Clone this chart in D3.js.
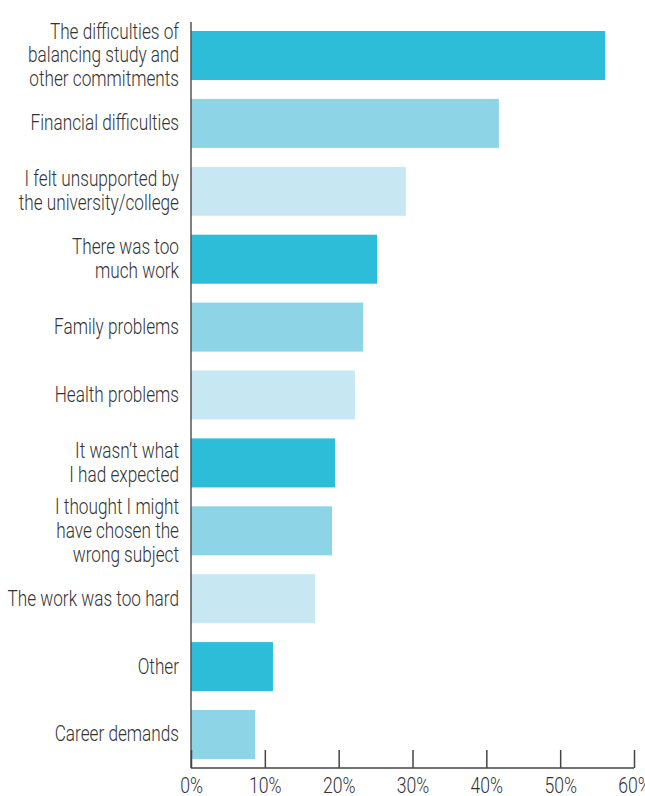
<!DOCTYPE html>
<html>
<head>
<meta charset="utf-8">
<script src="https://cdn.jsdelivr.net/npm/d3@7"></script>
<style>
  html, body { margin: 0; padding: 0; background: #fff; }
  svg { display: block; }
  text { font-family: Roboto, "Liberation Sans", sans-serif; font-weight: 300; }
</style>
</head>
<body>
<svg id="chart" width="645" height="796"></svg>
<script>
// Reasons for leaving a course (% of respondents)
const categories = [
  "The difficulties of balancing study and other commitments",
  "Financial difficulties",
  "I felt unsupported by the university/college",
  "There was too much work",
  "Family problems",
  "Health problems",
  "It wasn’t what I had expected",
  "I thought I might have chosen the wrong subject",
  "The work was too hard",
  "Other",
  "Career demands"
];
const labelLines = [
  ["The difficulties of", "balancing study and", "other commitments"],
  ["Financial difficulties"],
  ["I felt unsupported by", "the university/college"],
  ["There was too", "much work"],
  ["Family problems"],
  ["Health problems"],
  ["It wasn’t what", "I had expected"],
  ["I thought I might", "have chosen the", "wrong subject"],
  ["The work was too hard"],
  ["Other"],
  ["Career demands"]
];
const values = [56.1, 41.7, 29.1, 25.2, 23.3, 22.2, 19.5, 19.1, 16.8, 11.1, 8.7];
const tickValues = [0, 10, 20, 30, 40, 50, 60];
const palette = ["#2dbdd8", "#8dd5e6", "#c7e8f2"];

const svg = d3.select("#chart");

const x = d3.scaleLinear().domain([0, 60]).range([191, 634]);
const y = d3.scaleBand().domain(categories).range([31, 759]).paddingInner(0.278).paddingOuter(0);

// Bars
svg.append("g")
  .selectAll("rect")
  .data(categories)
  .join("rect")
  .attr("x", x(0))
  .attr("y", d => y(d))
  .attr("width", (d, i) => x(values[i]) - x(0))
  .attr("height", y.bandwidth())
  .attr("fill", (d, i) => palette[i % 3]);

// Category labels (condensed horizontally)
const lineH = 24;
const squeeze = 0.8;
const labels = svg.append("g")
  .attr("font-size", 21.5)
  .attr("fill", "#333")
  .attr("text-anchor", "end");
categories.forEach((c, i) => {
  const lines = labelLines[i];
  const cy = y(c) + y.bandwidth() / 2;
  const base = cy - (lines.length - 1) * lineH / 2 + 7;
  const t = labels.append("text")
    .attr("transform", `translate(179,${base}) scale(${squeeze},1)`);
  lines.forEach((ln, j) => {
    t.append("tspan").attr("x", 0).attr("dy", j === 0 ? 0 : lineH).text(ln);
  });
});

// Vertical axis line
svg.append("line")
  .attr("x1", x(0)).attr("x2", x(0))
  .attr("y1", 22).attr("y2", 768)
  .attr("stroke", "#555").attr("stroke-width", 1.5);

// Bottom axis
const xAxis = d3.axisBottom(x)
  .tickValues(tickValues)
  .tickFormat(d => d + "%")
  .tickSize(0)
  .tickPadding(0);
const gx = svg.append("g").attr("transform", "translate(0,768)").call(xAxis);
gx.select(".domain").remove();
gx.selectAll(".tick line").remove();
gx.append("line")
  .attr("x1", x(0)).attr("x2", x(60))
  .attr("stroke", "#444").attr("stroke-width", 1.5);
gx.selectAll(".tick").append("line")
  .attr("y1", 0).attr("y2", -18)
  .attr("stroke", "#444").attr("stroke-width", 1.5);
gx.selectAll(".tick text")
  .attr("y", null)
  .attr("dy", null)
  .attr("transform", `translate(0,25) scale(${squeeze},1)`)
  .attr("font-size", 22)
  .attr("font-family", "Roboto, \"Liberation Sans\", sans-serif")
  .attr("font-weight", 300)
  .attr("fill", "#333");
</script>
</body>
</html>
